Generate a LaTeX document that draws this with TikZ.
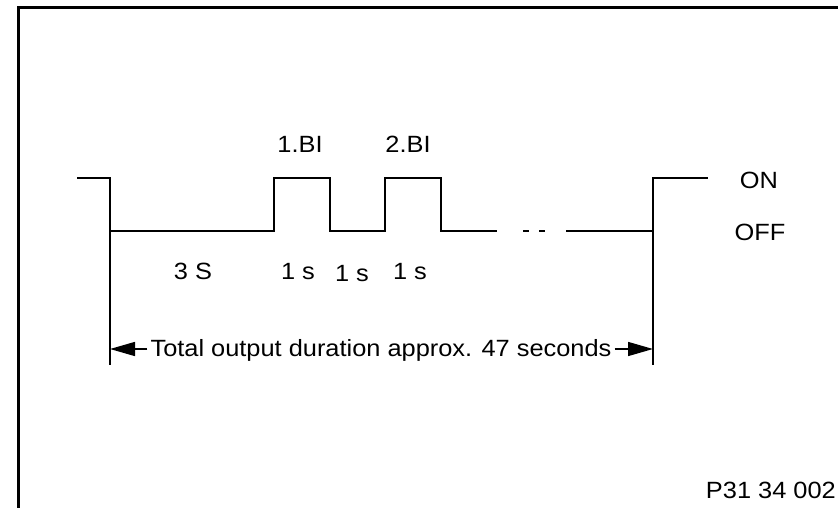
\documentclass[tikz,border=0pt]{standalone}
\usepackage{fontspec}
\setmainfont{Liberation Sans}[FakeStretch=1.08]
\usetikzlibrary{arrows.meta}
\begin{document}
\begin{tikzpicture}[x=1pt,y=-1pt,
  lbl/.style={font=\fontsize{23.5}{28}\selectfont, inner sep=0pt, anchor=base},
  wave/.style={line width=2.7pt, line join=miter},
  guide/.style={line width=1.5pt},
  dim/.style={line width=1.5pt, -{Triangle[length=25pt,width=14pt]}}]
\useasboundingbox (0,0) rectangle (838,508);
% frame
\draw[line width=3pt] (838,7.5) -- (18,7.5) -- (18,508);
% waveform
\draw[wave] (77,178) -- (110,178) -- (110,231) -- (274,231) -- (274,178) -- (330,178)
  -- (330,231) -- (385,231) -- (385,178) -- (441,178) -- (441,231) -- (497,231);
\draw[wave] (523,231) -- (529,231);
\draw[wave] (539,231) -- (545,231);
\draw[wave] (566,231) -- (653,231) -- (653,178) -- (708,178);
% guide lines
\coordinate (gl) at (110,231);
\coordinate (gr) at (653,231);
\coordinate (dl) at (110,349);
\coordinate (dr) at (653,349);
\draw[guide] (gl) -- (110,365);
\draw[guide] (gr) -- (653,365);
% dimension
\node[lbl] (tot) at (381,356) {Total output duration approx. 47 seconds};
\draw[dim] ([xshift=-3pt]tot.west |- dl) -- (dl);
\draw[dim] ([xshift=3pt]tot.east |- dr) -- (dr);
% labels
\node[lbl] (bi1) at (300,153) {1.BI};
\node[lbl] (bi2) at (408,153) {2.BI};
\node[lbl] (on) at (759,189) {ON};
\node[lbl] (off) at (760,240) {OFF};
\node[lbl] (t3) at (193,279) {3 S};
\node[lbl] (t1a) at (298,279) {1 s};
\node[lbl] (t1b) at (352,281) {1 s};
\node[lbl] (t1c) at (410,279) {1 s};
\node[lbl, anchor=base east] (ref) at (836,498) {P31 34 002};
\end{tikzpicture}
\end{document}
